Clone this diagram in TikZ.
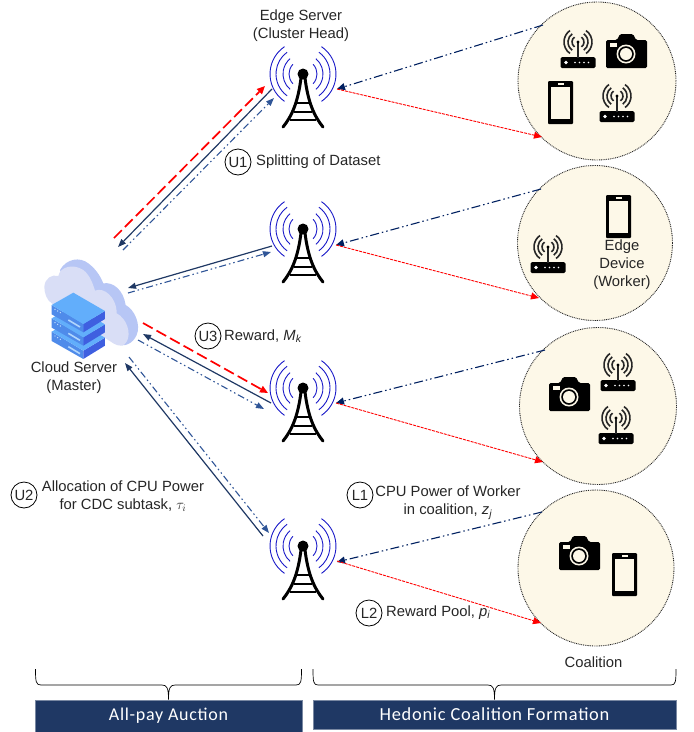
\documentclass[tikz,border=0pt]{standalone}
\usepackage{fontspec}
\setmainfont{Liberation Sans}
\newfontfamily\barfont[LetterSpace=4]{Carlito}
\usetikzlibrary{arrows.meta,calc}
\definecolor{navy}{HTML}{1F3864}
\definecolor{midblue}{HTML}{2F5597}
\definecolor{deepblue}{HTML}{002060}
\definecolor{cream}{HTML}{FDF8E8}
\definecolor{wave}{HTML}{1A1AC8}
\definecolor{srvTop}{HTML}{62AEFB}
\definecolor{srvLeft}{HTML}{4F8BEA}
\definecolor{srvRight}{HTML}{3F5FE0}
\definecolor{cloudBack}{HTML}{B7C6F5}
\definecolor{cloudFront}{HTML}{D9DEF6}
\tikzset{
  x=1pt,y=-1pt,
  font=\fontsize{14.8}{18}\selectfont,
  txt/.style={inner sep=0pt,text=black!85,align=center},
  badge/.style={circle,draw=black,line width=0.8,fill=white,minimum size=26,inner sep=0pt,text=black!85},
  anchorpt/.style={inner sep=0pt,minimum size=0pt},
  coal/.style={circle,fill=cream,draw=black!85,line width=0.9,dash pattern=on 0.9 off 0.9,inner sep=0pt},
  bar/.style={fill=navy,draw=navy!60!white,line width=0.6,text=white,inner sep=0pt},
  hd/.style={-{Triangle[length=8,width=6]}},
  redbig/.style={-{Triangle[length=8,width=7]},draw=red,line width=1.7,dash pattern=on 11 off 4.5},
  redthin/.style={-{Triangle[length=8,width=7]},draw=red,line width=0.9,dash pattern=on 3 off 1},
  solidnavy/.style={hd,draw=navy,line width=1.2},
  dashblue/.style={hd,draw=midblue,line width=1.1,dash pattern=on 7 off 3 on 1.5 off 3 on 1.5 off 3},
  dashnavy/.style={-{Triangle[length=8,width=7]},draw=deepblue,line width=1.1,dash pattern=on 9 off 3 on 1.5 off 3 on 1.5 off 3},
  brace/.style={draw=black,line width=0.7},
  tower/.pic={
    \foreach \r/\a in {33/56,27/54,20/50,14/44}{
      \draw[wave,line width=0.9] (-\a:\r) arc[start angle=-\a,end angle=\a,radius=\r];
      \draw[wave,line width=0.9] (180-\a:\r) arc[start angle=180-\a,end angle=180+\a,radius=\r];
    }
    \fill[black] (0,0) circle[radius=5.5];
    \draw[black,line width=3,line cap=round] (-2,4) .. controls (-5,28) and (-11,42) .. (-20,53);
    \draw[black,line width=3,line cap=round] (2,4) .. controls (5,28) and (11,42) .. (20,53);
    \draw[black,line width=2.5] (-6.5,29)--(6.5,29) (-9,38)--(9,38) (-13,46)--(13,46);
  },
  router/.pic={
    \fill[black,rounded corners=1.5] (-17.5,24) rectangle (17.5,35);
    \fill[white] (-12,29.5) circle[radius=1.8];
    \foreach \u in {-3,1.5,6,10.5}{\fill[white] (\u,29.5) circle[radius=0.9];}
    \draw[black!85,line width=1.8] (0,9)--(0,25);
    \fill[black] (0,9) circle[radius=1.7];
    \foreach \r in {6,10,14}{
      \draw[black!85,line width=1.6] (-55:\r)++(0,9) arc[start angle=-55,end angle=55,radius=\r];
      \draw[black!85,line width=1.6] (125:\r)++(0,9) arc[start angle=125,end angle=235,radius=\r];
    }
  },
  camera/.pic={
    \fill[black,rounded corners=1.5] (0,6) -- (11,6) -- (14,0) -- (27,0) -- (30,6) -- (41,6) -- (41,34) -- (0,34) -- cycle;
    \fill[cream] (4,9) rectangle (11,13);
    \fill[cream] (20,20) circle[radius=9.5];
    \fill[black] (20,20) circle[radius=7.8];
    \fill[cream] (20,20) circle[radius=6];
  },
  phone/.pic={
    \fill[black,rounded corners=1] (0,0) rectangle (25,43);
    \fill[cream] (3,5.5) rectangle (22,38);
    \fill[cream] (9.5,2) rectangle (15.5,3.6);
  },
}
\begin{document}
\begin{tikzpicture}
\useasboundingbox (0,0) rectangle (694,732);

% coalitions
\node[coal,minimum size=158] (c1) at (597,81) {};
\node[coal,minimum size=155] (c2) at (595,243) {};
\node[coal,minimum size=157] (c3) at (598,406) {};
\node[coal,minimum size=156] (c4) at (596,568) {};

% towers
\node[anchorpt] (t1) at (303,74) {};
\node[anchorpt] (t2) at (303,229) {};
\node[anchorpt] (t3) at (303,388) {};
\node[anchorpt] (t4) at (303,546) {};
\foreach \t in {t1,t2,t3,t4}{\pic at (\t) {tower};}

% cloud + servers
\node[anchorpt] (cloud) at (74,310) {};
\begin{scope}[shift={(cloud)}]
\begin{scope}[shift={(-39,-60)},scale=0.3333]
  \fill[cloudBack] (75,60) .. controls (95,25) and (135,20) .. (160,40) .. controls (180,55) and (195,75) .. (205,100) .. controls (235,95) and (265,120) .. (272,165) .. controls (300,180) and (318,225) .. (305,255) .. controls (295,280) and (265,295) .. (245,280) -- (120,180) -- cycle;
  \fill[cloudFront] (28,110) .. controls (30,85) and (50,72) .. (70,78) .. controls (75,50) and (115,40) .. (145,60) .. controls (165,75) and (175,105) .. (180,122) .. controls (205,110) and (245,140) .. (245,190) .. controls (275,205) and (290,250) .. (275,275) .. controls (268,290) and (250,290) .. (235,280) -- (50,160) .. controls (35,150) and (28,130) .. (28,110) -- cycle;
  \foreach \o in {80,40,0}{
    \begin{scope}[shift={(0,\o)}]
      \fill[srvLeft] (50,165) -- (145,222) -- (145,247) -- (50,193) -- cycle;
      \fill[srvRight] (145,222) -- (210,183) -- (210,207) -- (145,247) -- cycle;
      \fill[srvTop] (115,128) -- (210,183) -- (145,222) -- (50,165) -- cycle;
      \fill[white!65!srvTop] (60,178) circle[radius=2.2] (68,183) circle[radius=2.2] (76,188) circle[radius=2.2];
      \draw[white!50!srvTop,line width=1.6] (100,210) -- (135,231);
    \end{scope}
  }
\end{scope}
\end{scope}

% left side connectors
\draw[redbig] ([shift={(-189,164)}]t1.center) -- ([shift={(-38,12)}]t1.center);
\draw[solidnavy] ([shift={(-31,15)}]t1.center) -- ([shift={(-185,173)}]t1.center);
\draw[dashblue] ([shift={(-180,176)}]t1.center) -- ([shift={(-29,24)}]t1.center);
\draw[solidnavy] ([shift={(-31,17)}]t2.center) -- ([shift={(-175,59)}]t2.center);
\draw[dashblue] ([shift={(-175,64)}]t2.center) -- ([shift={(-32,23)}]t2.center);
\draw[redbig] ([shift={(-160,-65)}]t3.center) -- ([shift={(-35,5)}]t3.center);
\draw[solidnavy] ([shift={(-32,15)}]t3.center) -- ([shift={(-160,-54)}]t3.center);
\draw[dashblue] ([shift={(-165,-48)}]t3.center) -- ([shift={(-39,21)}]t3.center);
\draw[solidnavy] ([shift={(-40,-10)}]t4.center) -- ([shift={(-178,-183)}]t4.center);
\draw[dashblue] ([shift={(-174,-189)}]t4.center) -- ([shift={(-34,-13)}]t4.center);

% right side connectors
\draw[dashnavy] (c1.center)++(-54,-56) -- ([shift={(34,15)}]t1.center);
\draw[redthin] ([shift={(34,15)}]t1.center) -- ([shift={(-55,56)}]c1.center);
\draw[dashnavy] (c2.center)++(-54,-54) -- ([shift={(33,16)}]t2.center);
\draw[redthin] ([shift={(33,16)}]t2.center) -- ([shift={(-56,55)}]c2.center);
\draw[dashnavy] (c3.center)++(-53,-56) -- ([shift={(33,15)}]t3.center);
\draw[redthin] ([shift={(33,15)}]t3.center) -- ([shift={(-55,56)}]c3.center);
\draw[dashnavy] (c4.center)++(-54,-56) -- ([shift={(34,16)}]t4.center);
\draw[redthin] ([shift={(34,15)}]t4.center) -- ([shift={(-55,55)}]c4.center);

% icons
\pic at (578,33) {router};
\pic at (606,34) {camera};
\pic at (548,81) {phone};
\pic at (617,87) {router};
\pic at (606,195) {phone};
\pic at (548,238) {router};
\pic at (549,377) {camera};
\pic at (618,356) {router};
\pic at (616,409) {router};
\pic at (559,536) {camera};
\pic at (612,553) {phone};

% texts
\node[txt] (es) at (301,26) {Edge Server\\(Cluster Head)};
\node[txt] (cs) at (74,378) {Cloud Server\\(Master)};
\node[txt] (ed) at (622,265) {Edge\\Device\\(Worker)};
\node[txt] (co) at (593.5,662) {Coalition};

\node[badge] (u1) at (238,162) {U1};
\node[txt,anchor=west] (u1t) at (256,162) {Splitting of Dataset};
\node[badge] (u3) at (208,336) {U3};
\node[txt,anchor=west] (u3t) at (224,336) {Reward, \textit{M}\textsubscript{\textit{k}}};
\node[badge] (u2) at (24,495) {U2};
\node[txt] (u2t) at (123,496.5) {Allocation of CPU Power\\for CDC subtask, $\tau_i$};
\node[badge] (l1) at (360,495) {L1};
\node[txt] (l1t) at (448,502.5) {CPU Power of Worker\\in coalition, \textit{z}\textsubscript{\textit{j}}};
\node[badge] (l2) at (369,613) {L2};
\node[txt,anchor=west] (l2t) at (386,612.5) {Reward Pool, \textit{p}\textsubscript{\textit{i}}};

% bars and braces
\node[bar,minimum width=267,minimum height=32,font=\fontsize{18}{20}\selectfont] (b1) at (168.5,716) {\barfont All-pay Auction};
\node[bar,minimum width=363,minimum height=29,font=\fontsize{18.4}{20}\selectfont] (b2) at (494.5,714.5) {\barfont Hedonic Coalition Formation};
\draw[brace] (35.5,669) .. controls (35.5,682) and (36,685) .. (41,685) -- (162,685) .. controls (167,685) and (168.5,688) .. (b1.north) .. controls (168.5,688) and (170,685) .. (175,685) -- (296,685) .. controls (301,685) and (301.5,682) .. (301.5,669);
\draw[brace] (313,669) .. controls (313,682) and (313.5,685) .. (318,685) -- (488,685) .. controls (493,685) and (494.5,688) .. (b2.north) .. controls (494.5,688) and (496,685) .. (501,685) -- (671,685) .. controls (675.5,685) and (676,682) .. (676,669);
\end{tikzpicture}
\end{document}
